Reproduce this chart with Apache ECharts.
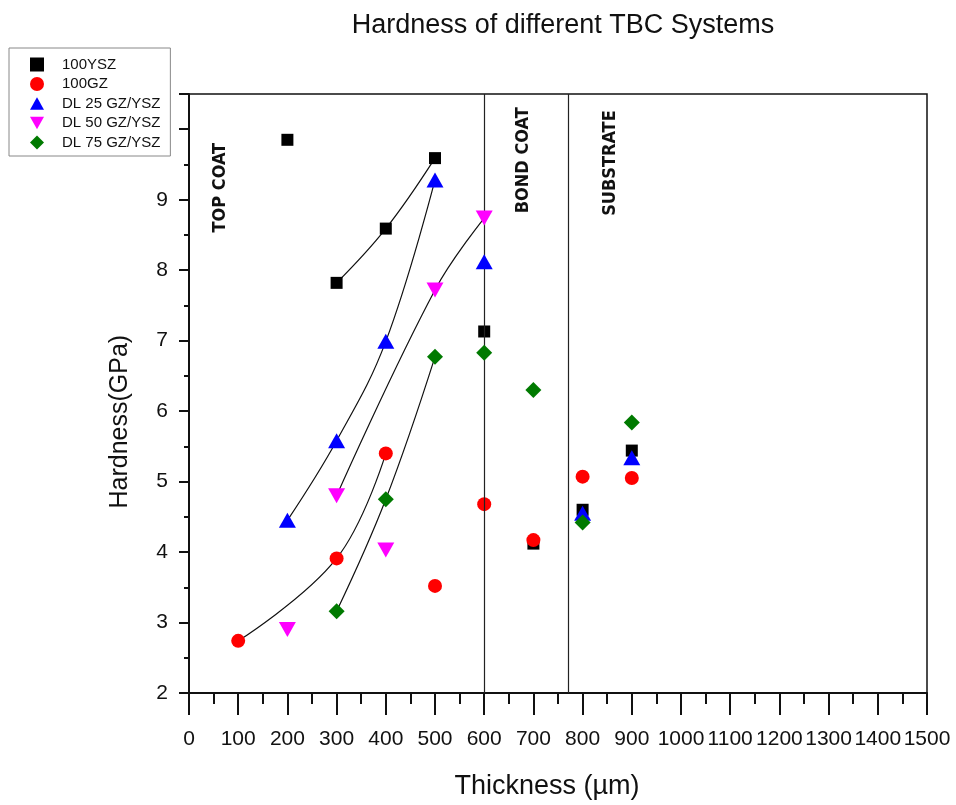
<!DOCTYPE html>
<html>
<head>
<meta charset="utf-8">
<script src="https://cdn.jsdelivr.net/npm/echarts@6/dist/echarts.min.js"></script>
<style>
html,body{margin:0;padding:0;background:#fff;}
#chart{width:956px;height:805px;}
</style>
</head>
<body>
<div id="chart"></div>
<script>
// ---------------- data ----------------
const thickness = [100, 200, 300, 400, 500, 600, 700, 800, 900];
const seriesNames = ['100YSZ', '100GZ', 'DL 25 GZ/YSZ', 'DL 50 GZ/YSZ', 'DL 75 GZ/YSZ'];
const ysz100   = [null, 9.85, 7.82, 8.59, 9.59, 7.13, 4.12, 4.60, 5.44];
const gz100    = [2.74, null, 3.91, 5.40, 3.52, 4.68, 4.17, 5.07, 5.05];
const dl25     = [null, 4.45, 5.58, 6.99, 9.28, 8.12, null, 4.55, 5.34];
const dl50     = [null, 2.90, 4.80, 4.03, 7.72, 8.74, null, null, null];
const dl75     = [null, null, 3.16, 4.75, 6.77, 6.83, 6.30, 4.42, 5.84];
// thicknesses joined by the guide curves for each series
const fitYsz100 = [300, 400, 500];
const fitGz100  = [100, 300, 400];
const fitDl25   = [200, 300, 400, 500];
const fitDl50   = [300, 500, 600];
const fitDl75   = [300, 400, 500];
// layer boundaries (µm)
const boundaries = [600, 770];
// region labels: [text, thickness, hardness]
const regionLabels = [['TOP COAT', 63, 9.17], ['BOND COAT', 679, 9.56], ['SUBSTRATE', 856, 9.52]];
const xTicks = {min: 0, max: 1500, interval: 100};
const yTicks = {min: 2, max: 10.5, interval: 1, lastLabel: 9};

// ---------------- build ----------------
const allValues = [ysz100, gz100, dl25, dl50, dl75];
const fits = [fitYsz100, fitGz100, fitDl25, fitDl50, fitDl75];
const colors = ['#000000', '#ff0000', '#0000ff', '#ff00ff', '#007a00'];
const symbols = ['rect', 'circle', 'path://M0,0 L8.5,15 L-8.5,15 Z', 'path://M0,15 L8.5,0 L-8.5,0 Z', 'diamond'];
const sizes = [12, 14, [17, 15], [17, 15], [16, 16]];

function pairs(vals) {
  const out = [];
  thickness.forEach((t, i) => { if (vals[i] != null) out.push([t, vals[i]]); });
  return out;
}
function fitPairs(vals, xs) {
  return xs.map(x => [x, vals[thickness.indexOf(x)]]);
}

const series = [];
allValues.forEach((vals, k) => {
  series.push({
    type: 'line', name: 'fit' + k, data: fitPairs(vals, fits[k]),
    smooth: 0.4, symbol: 'none', silent: true,
    lineStyle: {color: '#111', width: 1.2}, z: 1,
    markLine: k === 0 ? {
      silent: true, symbol: 'none', label: {show: false},
      lineStyle: {color: '#222', width: 1.2, type: 'solid'},
      data: boundaries.map(b => ({xAxis: b}))
    } : undefined
  });
});
allValues.forEach((vals, k) => {
  series.push({
    type: 'scatter', name: seriesNames[k], data: pairs(vals),
    symbol: symbols[k], symbolSize: sizes[k],
    itemStyle: {color: colors[k], opacity: 1}, z: 3 + k
  });
});

const chart = echarts.init(document.getElementById('chart'), null, {renderer: 'canvas'});
const font = '"Liberation Sans", Arial, sans-serif';
const option = {
  backgroundColor: '#fff',
  animation: false,
  textStyle: {fontFamily: font},
  title: {
    text: 'Hardness of different TBC Systems',
    left: 558, top: 7, textAlign: 'center',
    textStyle: {fontSize: 27, fontWeight: 'normal', color: '#111', fontFamily: font}
  },
  legend: {
    data: seriesNames.map((n, k) => ({name: n, icon: symbols[k]})),
    orient: 'vertical', left: 9, top: 48,
    padding: [9, 10, 6, 21],
    itemWidth: 14, itemHeight: 14, itemGap: 4.5,
    borderColor: '#888', borderWidth: 1,
    textStyle: {fontSize: 15, color: '#111', fontFamily: font, padding: [0, 0, 0, 13]}
  },
  grid: {
    left: 189, right: 29, top: 94, bottom: 111,
    show: true, borderColor: '#111', borderWidth: 1.5, backgroundColor: 'transparent'
  },
  xAxis: {
    type: 'value', min: xTicks.min, max: xTicks.max, interval: xTicks.interval,
    name: 'Thickness (µm)', nameLocation: 'middle', nameGap: 80,
    nameTextStyle: {fontSize: 27, color: '#111', fontFamily: font, padding: [0, 22, 0, 0]},
    axisLine: {show: true, onZero: false, lineStyle: {color: '#111', width: 2}},
    axisTick: {show: true, inside: false, length: 22, lineStyle: {color: '#111', width: 2}},
    minorTick: {show: true, splitNumber: 2, length: 11, lineStyle: {color: '#111', width: 2}},
    axisLabel: {
      fontSize: 21, color: '#111', margin: 36, hideOverlap: false, interval: 0,
      showMinLabel: true, showMaxLabel: true, fontFamily: font,
      formatter: v => String(v)
    },
    splitLine: {show: false}
  },
  yAxis: {
    type: 'value', min: yTicks.min, max: yTicks.max, interval: yTicks.interval,
    axisLine: {show: true, onZero: false, lineStyle: {color: '#111', width: 2}},
    axisTick: {show: true, inside: false, length: 10, lineStyle: {color: '#111', width: 2}},
    minorTick: {show: true, splitNumber: 2, length: 5, lineStyle: {color: '#111', width: 2}},
    axisLabel: {
      fontSize: 21, color: '#111', margin: 21, fontFamily: font,
      formatter: v => (v <= yTicks.lastLabel ? String(v) : '')
    },
    splitLine: {show: false}
  },
  series: series
};
chart.setOption(option);

const graphics = regionLabels.map(([txt, x, y]) => {
  const p = chart.convertToPixel({gridIndex: 0}, [x, y]);
  return {
    type: 'text', x: p[0], y: p[1], rotation: Math.PI / 2,
    style: {text: txt, fill: '#111', align: 'center', verticalAlign: 'middle',
            font: 'bold 18px "DejaVu Sans Condensed", "DejaVu Sans", sans-serif'}
  };
});
const midY = chart.convertToPixel({gridIndex: 0}, [0, 5.85])[1];
graphics.push({
  type: 'text', x: 120, y: midY, rotation: Math.PI / 2,
  style: {text: 'Hardness(GPa)', fill: '#111', align: 'center', verticalAlign: 'middle',
          font: '25px "Liberation Sans", Arial, sans-serif'}
});
chart.setOption({graphic: graphics});
</script>
</body>
</html>
